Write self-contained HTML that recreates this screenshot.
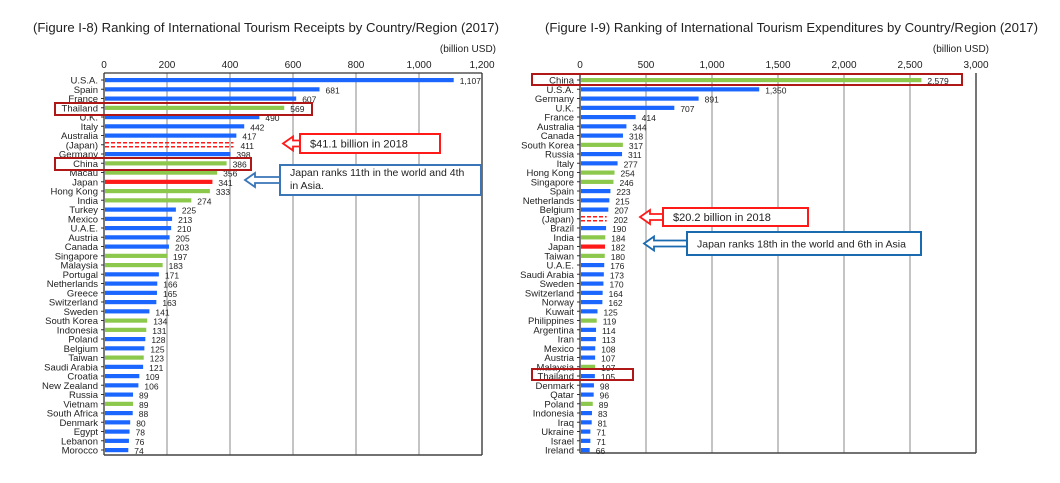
<!DOCTYPE html>
<html><head><meta charset="utf-8"><style>
body{margin:0;background:#fff;width:1060px;height:478px;overflow:hidden;font-family:"Liberation Sans",Arial,sans-serif}
svg text{font-family:"Liberation Sans",Arial,sans-serif}
</style></head><body>
<svg id="s" width="1060" height="478" xmlns="http://www.w3.org/2000/svg">
<text x="33" y="32" font-size="13" textLength="466" lengthAdjust="spacingAndGlyphs" fill="#222">(Figure I-8) Ranking of International Tourism Receipts by Country/Region (2017)</text>
<text x="545" y="32" font-size="13" textLength="493" lengthAdjust="spacingAndGlyphs" fill="#222">(Figure I-9) Ranking of International Tourism Expenditures by Country/Region (2017)</text>
<text x="496" y="52" font-size="10" text-anchor="end" fill="#222">(billion USD)</text>
<text x="989" y="52" font-size="10" text-anchor="end" fill="#222">(billion USD)</text>
</svg>
<script>
const s=document.getElementById('s');
function add(tag,attrs,txt){const e=document.createElementNS('http://www.w3.org/2000/svg',tag);for(const k in attrs)e.setAttribute(k,attrs[k]);if(txt!==undefined)e.textContent=txt;s.appendChild(e);return e;}
const B='#1a66ff',G='#8cc84b',R='#ff1a1a';
function chart(x0,x1,max,step,data,top,bottom,topLine){
  const sc=(x1-x0)/max;
  for(let v=0;v<=max;v+=step){const x=x0+v*sc;
    if(v>0)add('line',{x1:x,y1:top,x2:x,y2:bottom,stroke:'#aaa','stroke-width':1.4});
    add('text',{x:x,y:68,'font-size':10,'text-anchor':'middle',fill:'#222'},v.toLocaleString('en-US'));}
  add('line',{x1:x0,y1:top,x2:x0,y2:bottom,stroke:'#333','stroke-width':1.3});
  add('line',{x1:x1,y1:top,x2:x1,y2:bottom,stroke:'#555','stroke-width':1.5});
  add('line',{x1:x0,y1:bottom,x2:x1,y2:bottom,stroke:'#444','stroke-width':1.5});
  if(topLine)add('line',{x1:x0,y1:top,x2:x1,y2:top,stroke:'#333','stroke-width':1.3});
  data.forEach((d,i)=>{const y=80+i*9.25;const w=d[1]*sc;
    add('text',{x:x0-6,y:y+3.5,'font-size':9.5,'text-anchor':'end',fill:'#222'},d[0]);
    add('line',{x1:x0-3,y1:y,x2:x0,y2:y,stroke:'#333'});
    if(d[2]=='D'){add('line',{x1:x0+1,y1:y-2,x2:x0+w,y2:y-2,stroke:R,'stroke-width':1.6,'stroke-dasharray':'4,2'});add('line',{x1:x0+1,y1:y+2,x2:x0+w,y2:y+2,stroke:R,'stroke-width':1.6,'stroke-dasharray':'4,2'});}
    else add('rect',{x:x0+1,y:y-2,width:w,height:4.2,fill:d[2]=='G'?G:d[2]=='R'?R:B});
    add('text',{x:x0+w+7,y:y+4,'font-size':8.5,fill:'#222'},d[1].toLocaleString('en-US'));
  });
}
const L=[["U.S.A.",1107],["Spain",681],["France",607],["Thailand",569,"G"],["U.K.",490],["Italy",442],["Australia",417],["(Japan)",411,"D"],["Germany",398],["China",386,"G"],["Macau",356,"G"],["Japan",341,"R"],["Hong Kong",333,"G"],["India",274,"G"],["Turkey",225],["Mexico",213],["U.A.E.",210],["Austria",205],["Canada",203],["Singapore",197,"G"],["Malaysia",183,"G"],["Portugal",171],["Netherlands",166],["Greece",165],["Switzerland",163],["Sweden",141],["South Korea",134,"G"],["Indonesia",131,"G"],["Poland",128],["Belgium",125],["Taiwan",123,"G"],["Saudi Arabia",121],["Croatia",109],["New Zealand",106],["Russia",89],["Vietnam",89,"G"],["South Africa",88],["Denmark",80],["Egypt",78],["Lebanon",76],["Morocco",74]];
const Rr=[["China",2579,"G"],["U.S.A.",1350],["Germany",891],["U.K.",707],["France",414],["Australia",344],["Canada",318],["South Korea",317,"G"],["Russia",311],["Italy",277],["Hong Kong",254,"G"],["Singapore",246,"G"],["Spain",223],["Netherlands",215],["Belgium",207],["(Japan)",202,"D"],["Brazil",190],["India",184,"G"],["Japan",182,"R"],["Taiwan",180,"G"],["U.A.E.",176],["Saudi Arabia",173],["Sweden",170],["Switzerland",164],["Norway",162],["Kuwait",125],["Philippines",119,"G"],["Argentina",114],["Iran",113],["Mexico",108],["Austria",107],["Malaysia",107,"G"],["Thailand",105],["Denmark",98],["Qatar",96],["Poland",89,"G"],["Indonesia",83],["Iraq",81],["Ukraine",71],["Israel",71],["Ireland",66]];
chart(104,482,1200,200,L,73,455,true);
chart(580,976,3000,500,Rr,73,453,false);
const dr='#b01818';
[[55,103,257,12],[55,158,196,12],[532,74,430,11],[532,369,101,11]].forEach(b=>add('rect',{x:b[0],y:b[1],width:b[2],height:b[3],fill:'none',stroke:dr,'stroke-width':2}));
function callout(x,y,w,h,tip,col,lines,fs){
  const cy=y+h/2;
  add('polygon',{points:`${tip},${cy} ${tip+10},${cy-7} ${tip+10},${cy-3} ${x},${cy-3} ${x},${cy+3} ${tip+10},${cy+3} ${tip+10},${cy+7}`,fill:'#fff',stroke:col,'stroke-width':1.8});
  add('rect',{x:x,y:y,width:w,height:h,fill:'#fff',stroke:col,'stroke-width':2});
  lines.forEach((t,i)=>add('text',{x:x+10,y:y+(lines.length==1?h/2+4:11+i*13),'font-size':fs,fill:'#222'},t));
}
callout(300,134,140,19,283,R,["$41.1 billion in 2018"],11);
callout(280,165,201,30,245,'#3a75b8',["Japan ranks 11th in the world and 4th","in Asia."],10.5);
callout(663,208,145,18,640,R,["$20.2 billion in 2018"],11);
callout(687,232,234,23,644,'#1a6ab0',["Japan ranks 18th in the world and 6th in Asia"],10.5);
</script>
</body></html>
